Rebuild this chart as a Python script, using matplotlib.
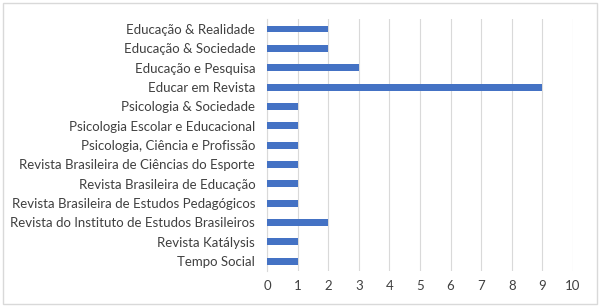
import matplotlib
matplotlib.use("Agg")
import matplotlib.pyplot as plt
from matplotlib.patches import Rectangle

journals = [
    "Educação & Realidade",
    "Educação & Sociedade",
    "Educação e Pesquisa",
    "Educar em Revista",
    "Psicologia & Sociedade",
    "Psicologia Escolar e Educacional",
    "Psicologia, Ciência e Profissão",
    "Revista Brasileira de Ciências do Esporte",
    "Revista Brasileira de Educação",
    "Revista Brasileira de Estudos Pedagógicos",
    "Revista do Instituto de Estudos Brasileiros",
    "Revista Katálysis",
    "Tempo Social",
]
counts = [2, 2, 3, 9, 1, 1, 1, 1, 1, 1, 2, 1, 1]
xticks = list(range(0, 11))

plt.rcParams['font.family'] = ['Lato', 'DejaVu Sans']

fig = plt.figure(figsize=(6.0, 3.07), dpi=100)
fig.patches.append(Rectangle((0.005, 0.01), 0.99, 0.98, transform=fig.transFigure,
                             fill=False, edgecolor='#d9d9d9', linewidth=1.0))
ax = fig.add_axes([0.445, 0.118, 0.51, 0.819])

y = list(range(len(journals)))
ax.barh(y, counts, height=0.36, color='#4472C4', zorder=3)
ax.set_ylim(len(journals) - 0.5, -0.5)
ax.set_xlim(0, 10)
ax.set_xticks(xticks)
ax.set_yticks(y)
ax.set_yticklabels(journals)
ax.grid(axis='x', color='#d9d9d9', linewidth=0.8, zorder=0)
for s in ['top', 'right', 'bottom']:
    ax.spines[s].set_visible(False)
ax.spines['left'].set_color('#d9d9d9')
ax.tick_params(axis='both', length=0, labelsize=9.5, colors='#404040', pad=7)
ax.tick_params(axis='y', pad=8.5)

fig.savefig("out.png", dpi=100)
